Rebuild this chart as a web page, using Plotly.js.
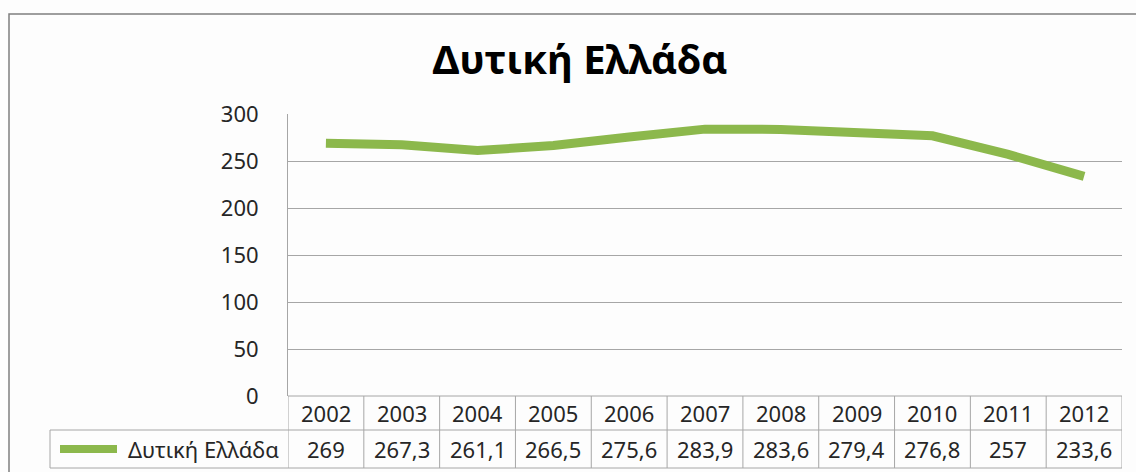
<!DOCTYPE html>
<html>
<head>
<meta charset="utf-8">
<script src="https://cdn.plot.ly/plotly-3.0.1.min.js"></script>
<style>html,body{margin:0;padding:0;background:#fff;}#chart{width:1136px;height:472px;}</style>
</head>
<body>
<div id="chart"></div>
<script>
const chartTitle = 'Δυτική Ελλάδα';
const seriesName = 'Δυτική Ελλάδα';
const years = ['2002','2003','2004','2005','2006','2007','2008','2009','2010','2011','2012'];
const values = [269, 267.3, 261.1, 266.5, 275.6, 283.9, 283.6, 279.4, 276.8, 257, 233.6];
const yTicks = [0, 50, 100, 150, 200, 250, 300];

const GREEN = '#8cb84c';
const GRID = '#a6a6a6';
const TXT = '#262626';
const FONT = 'Noto Sans, sans-serif';
const FS = 22;

// Layout geometry (pixels)
const W = 1136, H = 472;
const L = 288, R = 1122, T = 114, B = 396;
const pw = R - L, ph = B - T;
const px = x => (x - L) / pw;
const py = y => (B - y) / ph;

const rowMid = py(430), rowBot = py(468);
const legendLeft = px(50);

const shapes = [];
// outer frame
shapes.push({type:'rect', xref:'paper', yref:'paper', x0:px(9), x1:px(1160), y0:py(500), y1:py(14),
  line:{color:'#7f7f7f', width:1.5}, fillcolor:'rgba(0,0,0,0)', layer:'below'});
// table horizontal lines
shapes.push({type:'line', xref:'paper', yref:'paper', x0:0, x1:1, y0:0, y1:0, line:{color:GRID, width:1}});
shapes.push({type:'line', xref:'paper', yref:'paper', x0:legendLeft, x1:1, y0:rowMid, y1:rowMid, line:{color:GRID, width:1}});
shapes.push({type:'line', xref:'paper', yref:'paper', x0:legendLeft, x1:1, y0:rowBot, y1:rowBot, line:{color:GRID, width:1}});
// legend cell left border
shapes.push({type:'line', xref:'paper', yref:'paper', x0:legendLeft, x1:legendLeft, y0:rowMid, y1:rowBot, line:{color:GRID, width:1}});
// table vertical lines at category boundaries
for (let i = 0; i <= years.length; i++) {
  shapes.push({type:'line', xref:'x', yref:'paper', x0:i-0.5, x1:i-0.5, y0:0, y1:rowBot, line:{color:GRID, width:1}});
}
// legend key line
shapes.push({type:'line', xref:'paper', yref:'paper', x0:px(60), x1:px(117), y0:py(449), y1:py(449), line:{color:GREEN, width:8}});

const annotations = [];
years.forEach((yr, i) => {
  annotations.push({x:i, xref:'x', y:py(413), yref:'paper', text:yr, showarrow:false,
    xanchor:'center', yanchor:'middle', font:{family:FONT, size:FS, color:TXT}});
  annotations.push({x:i, xref:'x', y:py(449), yref:'paper', text:String(values[i]).replace('.', ','), showarrow:false,
    xanchor:'center', yanchor:'middle', font:{family:FONT, size:FS, color:TXT}});
});
annotations.push({x:px(281), xref:'paper', y:py(449), yref:'paper', text:seriesName, showarrow:false,
  xanchor:'right', yanchor:'middle', font:{family:FONT, size:FS, color:TXT}});

const trace = {
  type:'scatter', mode:'lines', name:seriesName,
  x: years, y: values,
  line:{color:GREEN, width:9, shape:'linear'},
  hoverinfo:'x+y'
};

const layout = {
  width:W, height:H,
  margin:{l:L, r:W-R, t:T, b:H-B, pad:0},
  paper_bgcolor:'#fdfdfd', plot_bgcolor:'#fdfdfd',
  showlegend:false,
  title:{text:chartTitle, x:580/W, xanchor:'center', y:1-60/H, yanchor:'middle', yref:'container', xref:'container',
    font:{family:FONT, size:40, color:'#000', weight:'bold'}},
  xaxis:{type:'category', range:[-0.5, years.length-0.5], showticklabels:false, showgrid:false,
    zeroline:false, showline:false, ticks:'', fixedrange:true},
  yaxis:{range:[0,300], tickvals:yTicks, ticktext:yTicks.map(String), showgrid:true, gridcolor:GRID, gridwidth:1,
    zeroline:false, showline:true, linecolor:GRID, linewidth:1, ticks:'', ticklabelstandoff:24,
    tickfont:{family:FONT, size:FS, color:TXT}, fixedrange:true},
  shapes:shapes,
  annotations:annotations
};

Plotly.newPlot('chart', [trace], layout, {displayModeBar:false, staticPlot:true});
</script>
</body>
</html>
